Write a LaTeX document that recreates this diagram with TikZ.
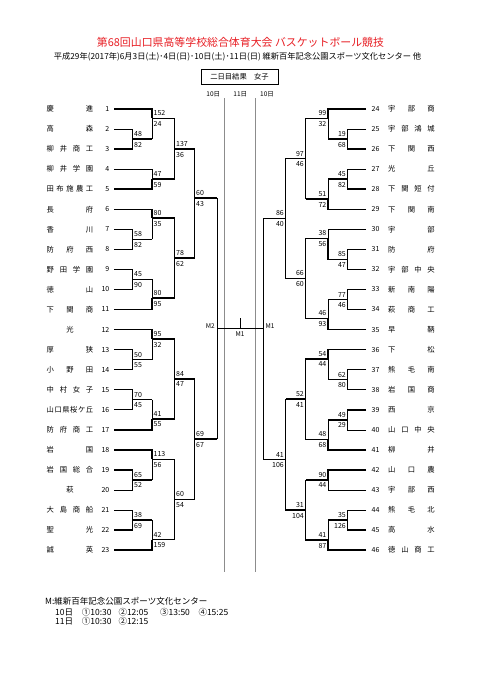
\documentclass[tikz,border=0pt]{standalone}
\usepackage{fontspec}
\setmainfont{Noto Sans CJK JP}
\definecolor{titlered}{RGB}{232,30,36}
\newcommand\jn[1]{\makebox[46.5pt]{\jnl#1\jne}}
\def\jnl#1#2\jne{#1\if\relax\detokenize{#2}\relax\else\hfill\jnl#2\jne\fi}
\def\fst#1#2\fstend{#1}
\newcommand\TL[2]{%
  \coordinate (t#1) at (114,{109+(#1-1)*20.05});
  \node[num, anchor=east] (num#1) at (109.5,{109+(#1-1)*20.05}) {#1};
  \node[nm, anchor=west] (nm#1) at (46.5,{109+(#1-1)*20.05}) {\jn{#2}};
}
\newcommand\TR[2]{%
  \coordinate (t#1) at (366,{109+(#1-24)*20.05});
  \node[num, anchor=west] (num#1) at (371.5,{109+(#1-24)*20.05}) {#1};
  \node[nm, anchor=west] (nm#1) at (388,{109+(#1-24)*20.05}) {\jn{#2}};
}
\newcommand\M[7]{%
  \coordinate (#1) at (#2,#3);
  \ifnum#6>#7\relax
    \if t\fst#5\fstend
      \draw[thn] (#5) -- (#5 -| #1) -- (#1);
    \else
      \draw[thn] (#5 -| #1) -- (#1);
      \draw[thk] (#5) -- (#5 -| #1);
    \fi
    \draw[thk] (#4) -- (#4 -| #1) -- (#1);
  \else
    \if t\fst#4\fstend
      \draw[thn] (#4) -- (#4 -| #1) -- (#1);
    \else
      \draw[thn] (#4 -| #1) -- (#1);
      \draw[thk] (#4) -- (#4 -| #1);
    \fi
    \draw[thk] (#5) -- (#5 -| #1) -- (#1);
  \fi
  \node[sc, scU] (#1u) at (#1) {#6};
  \node[sc, scL] (#1l) at (#1) {#7};
}
\begin{document}
\begin{tikzpicture}[x=1pt,y=-1pt,
  thk/.style={line width=1.5pt},
  thn/.style={line width=0.6pt},
  grayline/.style={line width=0.8pt, black!45},
  sc/.style={font=\fontsize{7}{8}\selectfont, inner sep=0pt},
  num/.style={font=\fontsize{7}{8}\selectfont, inner sep=0pt},
  nm/.style={font=\fontsize{7.3}{8}\selectfont, inner sep=0pt},
  lbl/.style={font=\fontsize{6.5}{7}\selectfont, inner sep=0pt},
  ft/.style={font=\fontsize{8.5}{9}\selectfont, inner sep=0pt, anchor=west},
  line join=miter]
\useasboundingbox (0,0) rectangle (481,680);
\fill[white] (0,0) rectangle (481,680);
% header
\node[font=\fontsize{10.9}{12}\selectfont, text=titlered, inner sep=0pt] (title) at (240.5,42) {第68回山口県高等学校総合体育大会 バスケットボール競技};
\node[font=\fontsize{8.25}{9}\selectfont, inner sep=0pt] (sub) at (237.5,57) {平成29年(2017年)6月3日(土)･4日(日)･10日(土)･11日(日) 維新百年記念公園スポーツ文化センター 他};
\node[draw, line width=0.8pt, minimum width=77pt, minimum height=15pt, inner sep=0pt, font=\fontsize{7.3}{8}\selectfont] (hdr) at (239.5,76.5) {二日目結果　女子};
\node[lbl] (d10a) at (213.3,94) {10日};
\node[lbl] (d11) at (240.3,94) {11日};
\node[lbl] (d10b) at (267,94) {10日};
% day separators
\coordinate (g1t) at (224.5,98); \coordinate (g1b) at (224.5,572);
\coordinate (g2t) at (255.5,98); \coordinate (g2b) at (255.5,572);
\draw[grayline] (g1t) -- (g1b);
\draw[grayline] (g2t) -- (g2b);
% left teams
\TL{1}{慶進}
\TL{2}{高森}
\TL{3}{柳井商工}
\TL{4}{柳井学園}
\TL{5}{田布施農工}
\TL{6}{長府}
\TL{7}{香川}
\TL{8}{防府西}
\TL{9}{野田学園}
\TL{10}{徳山}
\TL{11}{下関商}
\TL{12}{光}
\TL{13}{厚狭}
\TL{14}{小野田}
\TL{15}{中村女子}
\TL{16}{山口県桜ケ丘}
\TL{17}{防府商工}
\TL{18}{岩国}
\TL{19}{岩国総合}
\TL{20}{萩}
\TL{21}{大島商船}
\TL{22}{聖光}
\TL{23}{誠英}
% right teams
\TR{24}{宇部商}
\TR{25}{宇部鴻城}
\TR{26}{下関西}
\TR{27}{光丘}
\TR{28}{下関短付}
\TR{29}{下関南}
\TR{30}{宇部}
\TR{31}{防府}
\TR{32}{宇部中央}
\TR{33}{新南陽}
\TR{34}{萩商工}
\TR{35}{早鞆}
\TR{36}{下松}
\TR{37}{熊毛南}
\TR{38}{岩国商}
\TR{39}{西京}
\TR{40}{山口中央}
\TR{41}{柳井}
\TR{42}{山口農}
\TR{43}{宇部西}
\TR{44}{熊毛北}
\TR{45}{高水}
\TR{46}{徳山商工}
% left matches
\tikzset{scU/.style={anchor=south west, xshift=1.5pt, yshift=2.3pt},
         scL/.style={anchor=north west, xshift=1.5pt, yshift=-2.8pt}}
\M{a23}{132.5}{139}{t2}{t3}{48}{82}
\M{b1}{152}{118.4}{t1}{a23}{152}{24}
\M{b45}{152}{179.2}{t4}{t5}{47}{59}
\M{c1}{174.5}{149}{b1}{b45}{137}{36}
\M{a78}{132.5}{239.3}{t7}{t8}{58}{82}
\M{b6}{152}{218}{t6}{a78}{80}{35}
\M{a910}{132.5}{279.4}{t9}{t10}{45}{90}
\M{b11}{152}{298}{a910}{t11}{80}{95}
\M{c6}{174.5}{258}{b6}{b11}{78}{62}
\M{d1}{194.5}{198}{c1}{c6}{60}{43}
\M{a1314}{132.5}{359.6}{t13}{t14}{50}{55}
\M{b12}{152}{339}{t12}{a1314}{95}{32}
\M{a1516}{132.5}{399.7}{t15}{t16}{70}{45}
\M{b17}{152}{419}{a1516}{t17}{41}{55}
\M{c12}{174.5}{379}{b12}{b17}{84}{47}
\M{a1920}{132.5}{479.9}{t19}{t20}{65}{52}
\M{b18}{152}{459.3}{t18}{a1920}{113}{56}
\M{a2122}{132.5}{520}{t21}{t22}{38}{69}
\M{b23}{152}{539.5}{a2122}{t23}{42}{159}
\M{c18}{174.5}{499.4}{b18}{b23}{60}{54}
\M{d12}{194.5}{439}{c12}{c18}{69}{67}
% right matches
\tikzset{scU/.style={anchor=south east, xshift=-1.5pt, yshift=2.3pt},
         scL/.style={anchor=north east, xshift=-1.5pt, yshift=-2.8pt}}
\M{A2526}{347.5}{139}{t25}{t26}{19}{68}
\M{B24}{328}{118.4}{t24}{A2526}{99}{32}
\M{A2728}{347.5}{179.2}{t27}{t28}{45}{82}
\M{B29}{328}{199}{A2728}{t29}{51}{72}
\M{C24}{305.5}{158.7}{B24}{B29}{97}{46}
\M{A3132}{347.5}{259.4}{t31}{t32}{85}{47}
\M{B30}{328}{238.5}{t30}{A3132}{38}{56}
\M{A3334}{347.5}{299.5}{t33}{t34}{77}{46}
\M{B35}{328}{318.5}{A3334}{t35}{46}{93}
\M{C31}{305.5}{278.5}{B30}{B35}{66}{60}
\M{D24}{285.5}{218.5}{C24}{C31}{86}{40}
\M{A3738}{347.5}{379.7}{t37}{t38}{62}{80}
\M{B36}{328}{359}{t36}{A3738}{54}{44}
\M{A3940}{347.5}{419.8}{t39}{t40}{49}{29}
\M{B41}{328}{439.5}{A3940}{t41}{48}{68}
\M{C36}{305.5}{399.2}{B36}{B41}{52}{41}
\M{B4243}{328}{479.9}{t42}{t43}{90}{44}
\M{A4445}{347.5}{520}{t44}{t45}{35}{126}
\M{B46}{328}{540}{A4445}{t46}{41}{87}
\M{C46}{305.5}{510}{B4243}{B46}{31}{104}
\M{D46}{285.5}{459.5}{C36}{C46}{41}{106}
% semifinals and final
\coordinate (sL) at (217,328.3);
\coordinate (sR) at (263,328.3);
\draw[thn] (d1 -| sL) -- (d12 -| sL);
\draw[thk] (d1) -- (d1 -| sL);
\draw[thk] (d12) -- (d12 -| sL);
\draw[thn] (D24 -| sR) -- (D46 -| sR);
\draw[thk] (D24) -- (D24 -| sR);
\draw[thk] (D46) -- (D46 -| sR);
\draw[thn] (sL) -- (sR);
\coordinate (fc) at (240,328.3);
\coordinate (ftop) at (240,317.5);
\draw[thn] (fc) -- (ftop);
\node[lbl, anchor=east] (m2) at (215,326) {M2};
\node[lbl, anchor=west] (m1r) at (265.5,326) {M1};
\node[lbl] (m1c) at (240,334) {M1};
% footer
\node[ft] (f1) at (45,601.7) {M:維新百年記念公園スポーツ文化センター};
\node[ft] (f2a) at (55,612.7) {10日};
\node[ft] (f2b) at (81.7,612.7) {①10:30};
\node[ft] (f2c) at (118.3,612.7) {②12:05};
\node[ft] (f2d) at (160,612.7) {③13:50};
\node[ft] (f2e) at (198.3,612.7) {④15:25};
\node[ft] (f3a) at (55,621.7) {11日};
\node[ft] (f3b) at (81.7,621.7) {①10:30};
\node[ft] (f3c) at (118.3,621.7) {②12:15};
\end{tikzpicture}
\end{document}
